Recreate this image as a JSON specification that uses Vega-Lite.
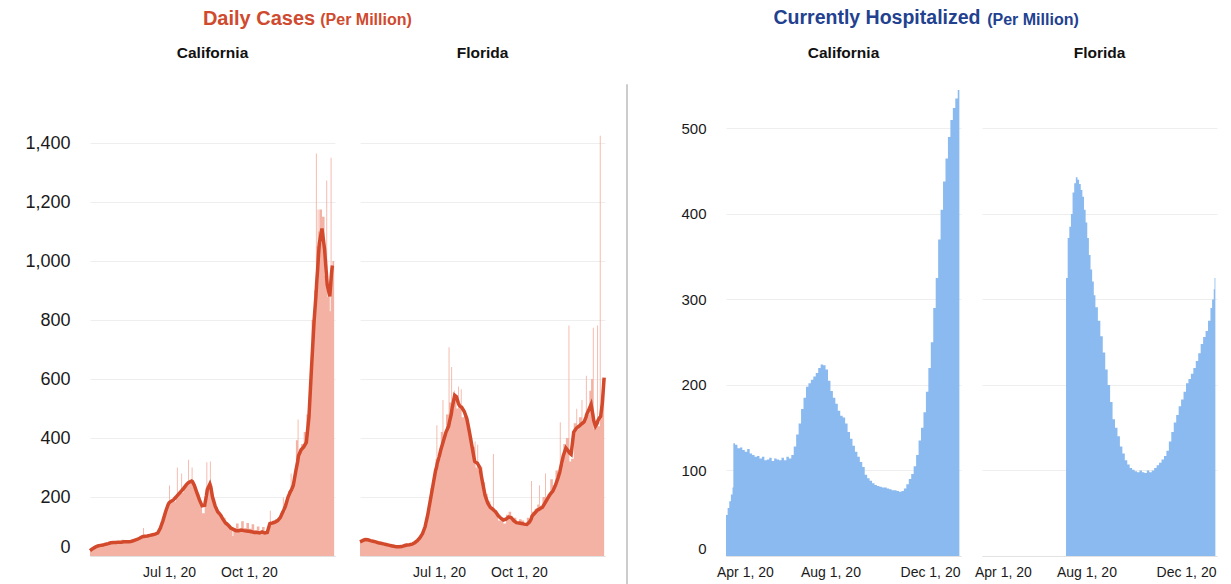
{
"$schema": "https://vega.github.io/schema/vega-lite/v6.json",
"background": "white",
"padding": {"left": 24, "top": 8, "right": 5, "bottom": 5},
"config": {
  "font": "Liberation Sans",
  "view": {"stroke": null},
  "axis": {"ticks": false, "domain": false, "labelColor": "#1a1a1a", "gridColor": "#eeeeee", "labelFont": "Liberation Sans"},
  "axisX": {"domain": true, "domainColor": "#e2e2e2", "labelFontSize": 14, "labelPadding": 9, "labelFlush": false, "grid": false},
  "axisY": {"grid": true, "labelFlush": true, "labelPadding": 20},
  "title": {"fontWeight": "bold", "anchor": "middle", "font": "Liberation Sans"}
},
"datasets": {
"caC": [
{"d":"2020-04-01","c":18,"a":18},{"d":"2020-04-04","c":30,"a":25},{"d":"2020-04-07","c":32,"a":30},{"d":"2020-04-10","c":38,"a":34},{"d":"2020-04-13","c":35,"a":36},{"d":"2020-04-16","c":42,"a":37},{"d":"2020-04-19","c":40,"a":40},{"d":"2020-04-22","c":48,"a":42},{"d":"2020-04-25","c":50,"a":45},{"d":"2020-04-28","c":44,"a":46},
{"d":"2020-05-01","c":52,"a":46},{"d":"2020-05-04","c":45,"a":47},{"d":"2020-05-07","c":55,"a":47},{"d":"2020-05-10","c":46,"a":48},{"d":"2020-05-13","c":52,"a":48},{"d":"2020-05-16","c":50,"a":48},{"d":"2020-05-19","c":54,"a":50},{"d":"2020-05-22","c":58,"a":53},{"d":"2020-05-25","c":55,"a":56},{"d":"2020-05-28","c":66,"a":60},{"d":"2020-05-31","c":70,"a":65},
{"d":"2020-06-01","c":95,"a":66},{"d":"2020-06-02","c":68,"a":66},{"d":"2020-06-03","c":70,"a":67},{"d":"2020-06-06","c":72,"a":68},{"d":"2020-06-09","c":70,"a":70},{"d":"2020-06-12","c":78,"a":72},{"d":"2020-06-15","c":76,"a":74},{"d":"2020-06-18","c":88,"a":78},{"d":"2020-06-21","c":100,"a":95},{"d":"2020-06-24","c":140,"a":120},{"d":"2020-06-27","c":155,"a":150},{"d":"2020-06-30","c":180,"a":175},
{"d":"2020-07-01","c":239,"a":180},{"d":"2020-07-02","c":185,"a":183},{"d":"2020-07-03","c":190,"a":185},{"d":"2020-07-06","c":185,"a":190},{"d":"2020-07-09","c":210,"a":200},{"d":"2020-07-10","c":300,"a":203},{"d":"2020-07-11","c":200,"a":206},{"d":"2020-07-12","c":215,"a":210},{"d":"2020-07-15","c":280,"a":220},{"d":"2020-07-16","c":215,"a":223},{"d":"2020-07-18","c":235,"a":230},{"d":"2020-07-21","c":240,"a":242},{"d":"2020-07-23","c":326,"a":248},{"d":"2020-07-24","c":250,"a":250},{"d":"2020-07-27","c":300,"a":254},{"d":"2020-07-28","c":245,"a":252},{"d":"2020-07-30","c":235,"a":240},
{"d":"2020-08-02","c":210,"a":215},{"d":"2020-08-05","c":180,"a":190},{"d":"2020-08-08","c":145,"a":170},{"d":"2020-08-11","c":175,"a":172},{"d":"2020-08-13","c":318,"a":205},{"d":"2020-08-14","c":230,"a":225},{"d":"2020-08-17","c":320,"a":244},{"d":"2020-08-18","c":230,"a":235},{"d":"2020-08-20","c":195,"a":200},{"d":"2020-08-23","c":165,"a":170},{"d":"2020-08-26","c":150,"a":150},{"d":"2020-08-29","c":140,"a":140},
{"d":"2020-09-01","c":130,"a":125},{"d":"2020-09-04","c":115,"a":112},{"d":"2020-09-07","c":100,"a":105},{"d":"2020-09-10","c":98,"a":95},{"d":"2020-09-12","c":68,"a":92},{"d":"2020-09-13","c":95,"a":90},{"d":"2020-09-16","c":110,"a":86},{"d":"2020-09-19","c":92,"a":86},{"d":"2020-09-22","c":118,"a":88},{"d":"2020-09-25","c":95,"a":86},{"d":"2020-09-28","c":112,"a":85},
{"d":"2020-10-01","c":92,"a":84},{"d":"2020-10-04","c":108,"a":82},{"d":"2020-10-07","c":88,"a":80},{"d":"2020-10-10","c":100,"a":80},{"d":"2020-10-13","c":85,"a":78},{"d":"2020-10-16","c":98,"a":82},{"d":"2020-10-19","c":80,"a":78},{"d":"2020-10-22","c":95,"a":80},{"d":"2020-10-25","c":153,"a":110},{"d":"2020-10-26","c":115,"a":111},{"d":"2020-10-28","c":120,"a":112},{"d":"2020-10-31","c":125,"a":115},
{"d":"2020-11-03","c":130,"a":120},{"d":"2020-11-06","c":145,"a":130},{"d":"2020-11-09","c":198,"a":150},{"d":"2020-11-10","c":150,"a":155},{"d":"2020-11-12","c":185,"a":170},{"d":"2020-11-15","c":220,"a":200},{"d":"2020-11-18","c":280,"a":220},{"d":"2020-11-19","c":225,"a":225},{"d":"2020-11-21","c":260,"a":240},{"d":"2020-11-24","c":392,"a":290},{"d":"2020-11-26","c":463,"a":320},{"d":"2020-11-27","c":350,"a":340},{"d":"2020-11-30","c":380,"a":360},
{"d":"2020-12-03","c":420,"a":370},{"d":"2020-12-06","c":480,"a":385},{"d":"2020-12-09","c":560,"a":470},{"d":"2020-12-12","c":800,"a":640},{"d":"2020-12-15","c":900,"a":800},{"d":"2020-12-17","c":1364,"a":880},{"d":"2020-12-18","c":1050,"a":930},{"d":"2020-12-19","c":1175,"a":970},{"d":"2020-12-20","c":1100,"a":1020},{"d":"2020-12-21","c":1175,"a":1060},{"d":"2020-12-24","c":1150,"a":1110},{"d":"2020-12-27","c":950,"a":1040},{"d":"2020-12-29","c":1273,"a":960},{"d":"2020-12-30","c":880,"a":920},
{"d":"2021-01-02","c":830,"a":880},{"d":"2021-01-03","c":1350,"a":920},{"d":"2021-01-04","c":980,"a":960},{"d":"2021-01-05","c":1000,"a":985},{"d":"2021-01-07","c":950,"a":null}
],
"flC": [
{"d":"2020-04-01","c":50,"a":48},{"d":"2020-04-04","c":60,"a":52},{"d":"2020-04-07","c":55,"a":56},{"d":"2020-04-10","c":58,"a":55},{"d":"2020-04-13","c":50,"a":52},{"d":"2020-04-16","c":52,"a":50},{"d":"2020-04-19","c":48,"a":48},{"d":"2020-04-22","c":46,"a":45},{"d":"2020-04-25","c":44,"a":43},{"d":"2020-04-28","c":40,"a":41},
{"d":"2020-05-01","c":42,"a":39},{"d":"2020-05-04","c":38,"a":37},{"d":"2020-05-07","c":36,"a":35},{"d":"2020-05-10","c":34,"a":33},{"d":"2020-05-13","c":33,"a":31},{"d":"2020-05-16","c":36,"a":31},{"d":"2020-05-19","c":34,"a":32},{"d":"2020-05-22","c":42,"a":35},{"d":"2020-05-25","c":40,"a":37},{"d":"2020-05-28","c":45,"a":38},{"d":"2020-05-31","c":48,"a":40},
{"d":"2020-06-03","c":52,"a":45},{"d":"2020-06-06","c":60,"a":52},{"d":"2020-06-09","c":72,"a":62},{"d":"2020-06-12","c":90,"a":76},{"d":"2020-06-15","c":110,"a":100},{"d":"2020-06-18","c":160,"a":140},{"d":"2020-06-21","c":230,"a":190},{"d":"2020-06-24","c":270,"a":240},{"d":"2020-06-27","c":330,"a":290},{"d":"2020-06-28","c":443,"a":300},{"d":"2020-06-29","c":310,"a":315},
{"d":"2020-07-01","c":330,"a":335},{"d":"2020-07-03","c":420,"a":360},{"d":"2020-07-05","c":529,"a":380},{"d":"2020-07-06","c":400,"a":390},{"d":"2020-07-09","c":480,"a":420},{"d":"2020-07-12","c":708,"a":440},{"d":"2020-07-13","c":520,"a":455},{"d":"2020-07-15","c":641,"a":480},{"d":"2020-07-16","c":500,"a":500},{"d":"2020-07-18","c":560,"a":530},{"d":"2020-07-19","c":530,"a":545},{"d":"2020-07-21","c":500,"a":540},{"d":"2020-07-23","c":575,"a":520},{"d":"2020-07-24","c":500,"a":512},{"d":"2020-07-26","c":565,"a":505},{"d":"2020-07-27","c":470,"a":504},{"d":"2020-07-30","c":480,"a":490},
{"d":"2020-08-02","c":440,"a":465},{"d":"2020-08-05","c":400,"a":420},{"d":"2020-08-08","c":370,"a":370},{"d":"2020-08-11","c":388,"a":321},{"d":"2020-08-12","c":300,"a":318},{"d":"2020-08-14","c":377,"a":315},{"d":"2020-08-15","c":290,"a":310},{"d":"2020-08-17","c":300,"a":300},{"d":"2020-08-20","c":250,"a":250},{"d":"2020-08-23","c":210,"a":205},{"d":"2020-08-26","c":185,"a":180},{"d":"2020-08-29","c":160,"a":165},
{"d":"2020-09-01","c":346,"a":158},{"d":"2020-09-02","c":150,"a":155},{"d":"2020-09-04","c":140,"a":150},{"d":"2020-09-07","c":120,"a":137},{"d":"2020-09-10","c":130,"a":128},{"d":"2020-09-13","c":110,"a":122},{"d":"2020-09-16","c":140,"a":125},{"d":"2020-09-19","c":150,"a":132},{"d":"2020-09-22","c":120,"a":130},{"d":"2020-09-25","c":130,"a":120},{"d":"2020-09-28","c":110,"a":113},
{"d":"2020-10-01","c":125,"a":112},{"d":"2020-10-04","c":120,"a":110},{"d":"2020-10-07","c":110,"a":108},{"d":"2020-10-10","c":130,"a":107},{"d":"2020-10-13","c":120,"a":115},{"d":"2020-10-15","c":254,"a":125},{"d":"2020-10-16","c":150,"a":135},{"d":"2020-10-19","c":160,"a":145},{"d":"2020-10-22","c":175,"a":155},{"d":"2020-10-24","c":240,"a":158},{"d":"2020-10-25","c":170,"a":160},{"d":"2020-10-28","c":200,"a":165},{"d":"2020-10-31","c":280,"a":180},
{"d":"2020-11-01","c":190,"a":185},{"d":"2020-11-03","c":210,"a":195},{"d":"2020-11-06","c":260,"a":210},{"d":"2020-11-09","c":240,"a":220},{"d":"2020-11-12","c":290,"a":240},{"d":"2020-11-15","c":280,"a":265},{"d":"2020-11-17","c":453,"a":285},{"d":"2020-11-18","c":310,"a":300},{"d":"2020-11-21","c":380,"a":340},{"d":"2020-11-24","c":400,"a":366},{"d":"2020-11-27","c":781,"a":355},{"d":"2020-11-28","c":320,"a":350},{"d":"2020-11-30","c":330,"a":345},
{"d":"2020-12-03","c":450,"a":420},{"d":"2020-12-06","c":499,"a":433},{"d":"2020-12-07","c":430,"a":435},{"d":"2020-12-09","c":470,"a":440},{"d":"2020-12-12","c":529,"a":448},{"d":"2020-12-13","c":450,"a":450},{"d":"2020-12-15","c":470,"a":455},{"d":"2020-12-17","c":611,"a":470},{"d":"2020-12-18","c":480,"a":480},{"d":"2020-12-21","c":560,"a":500},{"d":"2020-12-23","c":600,"a":514},{"d":"2020-12-25","c":774,"a":480},{"d":"2020-12-26","c":430,"a":460},{"d":"2020-12-28","c":440,"a":440},{"d":"2020-12-30","c":781,"a":450},{"d":"2020-12-31","c":440,"a":460},
{"d":"2021-01-02","c":1425,"a":470},{"d":"2021-01-03","c":480,"a":473},{"d":"2021-01-05","c":600,"a":520},{"d":"2021-01-07","c":620,"a":605}
],
"caH": [
{"d":"2020-03-26","h":48},{"d":"2020-03-28","h":56},{"d":"2020-03-30","h":64},{"d":"2020-04-01","h":72},{"d":"2020-04-03","h":80},{"d":"2020-04-04","h":132},{"d":"2020-04-06","h":130},{"d":"2020-04-09","h":126},{"d":"2020-04-12","h":127},{"d":"2020-04-15","h":124},{"d":"2020-04-18","h":122},{"d":"2020-04-21","h":125},{"d":"2020-04-24","h":120},{"d":"2020-04-27","h":118},{"d":"2020-04-30","h":116},
{"d":"2020-05-03","h":117},{"d":"2020-05-06","h":114},{"d":"2020-05-09","h":116},{"d":"2020-05-12","h":112},{"d":"2020-05-15","h":113},{"d":"2020-05-18","h":115},{"d":"2020-05-21","h":111},{"d":"2020-05-24","h":114},{"d":"2020-05-27","h":113},{"d":"2020-05-30","h":112},
{"d":"2020-06-02","h":115},{"d":"2020-06-05","h":112},{"d":"2020-06-08","h":116},{"d":"2020-06-11","h":114},{"d":"2020-06-14","h":118},{"d":"2020-06-17","h":128},{"d":"2020-06-20","h":142},{"d":"2020-06-23","h":155},{"d":"2020-06-26","h":172},{"d":"2020-06-29","h":185},
{"d":"2020-07-02","h":198},{"d":"2020-07-05","h":202},{"d":"2020-07-08","h":206},{"d":"2020-07-11","h":210},{"d":"2020-07-14","h":214},{"d":"2020-07-17","h":220},{"d":"2020-07-20","h":224},{"d":"2020-07-23","h":223},{"d":"2020-07-26","h":218},{"d":"2020-07-29","h":205},
{"d":"2020-08-01","h":193},{"d":"2020-08-04","h":185},{"d":"2020-08-07","h":178},{"d":"2020-08-10","h":170},{"d":"2020-08-13","h":164},{"d":"2020-08-16","h":162},{"d":"2020-08-19","h":155},{"d":"2020-08-22","h":145},{"d":"2020-08-25","h":137},{"d":"2020-08-28","h":129},{"d":"2020-08-31","h":122},
{"d":"2020-09-03","h":116},{"d":"2020-09-06","h":110},{"d":"2020-09-09","h":104},{"d":"2020-09-12","h":95},{"d":"2020-09-15","h":91},{"d":"2020-09-18","h":88},{"d":"2020-09-21","h":85},{"d":"2020-09-24","h":83},{"d":"2020-09-27","h":82},{"d":"2020-09-30","h":81},
{"d":"2020-10-03","h":80},{"d":"2020-10-06","h":80},{"d":"2020-10-09","h":79},{"d":"2020-10-12","h":78},{"d":"2020-10-15","h":77},{"d":"2020-10-18","h":77},{"d":"2020-10-21","h":76},{"d":"2020-10-24","h":75},{"d":"2020-10-27","h":76},{"d":"2020-10-30","h":79},
{"d":"2020-11-02","h":84},{"d":"2020-11-05","h":90},{"d":"2020-11-08","h":96},{"d":"2020-11-11","h":105},{"d":"2020-11-14","h":118},{"d":"2020-11-17","h":135},{"d":"2020-11-20","h":150},{"d":"2020-11-23","h":168},{"d":"2020-11-26","h":192},{"d":"2020-11-29","h":220},
{"d":"2020-12-02","h":250},{"d":"2020-12-05","h":290},{"d":"2020-12-08","h":325},{"d":"2020-12-11","h":370},{"d":"2020-12-14","h":405},{"d":"2020-12-17","h":438},{"d":"2020-12-20","h":465},{"d":"2020-12-23","h":490},{"d":"2020-12-26","h":510},{"d":"2020-12-29","h":524},
{"d":"2021-01-01","h":535},{"d":"2021-01-04","h":545},{"d":"2021-01-06","h":545}
],
"flH": [
{"d":"2020-07-07","h":325},{"d":"2020-07-09","h":372},{"d":"2020-07-11","h":385},{"d":"2020-07-13","h":400},{"d":"2020-07-15","h":425},{"d":"2020-07-17","h":436},{"d":"2020-07-19","h":443},{"d":"2020-07-21","h":440},{"d":"2020-07-23","h":435},{"d":"2020-07-25","h":428},{"d":"2020-07-27","h":420},{"d":"2020-07-29","h":405},{"d":"2020-07-31","h":390},
{"d":"2020-08-02","h":372},{"d":"2020-08-04","h":352},{"d":"2020-08-06","h":335},{"d":"2020-08-08","h":321},{"d":"2020-08-10","h":305},{"d":"2020-08-12","h":291},{"d":"2020-08-15","h":275},{"d":"2020-08-18","h":257},{"d":"2020-08-21","h":238},{"d":"2020-08-24","h":218},{"d":"2020-08-27","h":200},{"d":"2020-08-30","h":180},
{"d":"2020-09-02","h":160},{"d":"2020-09-05","h":150},{"d":"2020-09-08","h":140},{"d":"2020-09-11","h":128},{"d":"2020-09-14","h":120},{"d":"2020-09-17","h":112},{"d":"2020-09-20","h":107},{"d":"2020-09-23","h":103},{"d":"2020-09-26","h":101},{"d":"2020-09-29","h":99},
{"d":"2020-10-02","h":98},{"d":"2020-10-05","h":100},{"d":"2020-10-08","h":98},{"d":"2020-10-11","h":97},{"d":"2020-10-14","h":100},{"d":"2020-10-17","h":98},{"d":"2020-10-20","h":100},{"d":"2020-10-23","h":103},{"d":"2020-10-26","h":106},{"d":"2020-10-29","h":109},
{"d":"2020-11-01","h":113},{"d":"2020-11-04","h":117},{"d":"2020-11-07","h":123},{"d":"2020-11-10","h":134},{"d":"2020-11-13","h":145},{"d":"2020-11-16","h":156},{"d":"2020-11-19","h":165},{"d":"2020-11-22","h":175},{"d":"2020-11-25","h":183},{"d":"2020-11-28","h":192},
{"d":"2020-12-01","h":202},{"d":"2020-12-04","h":207},{"d":"2020-12-07","h":213},{"d":"2020-12-10","h":220},{"d":"2020-12-13","h":228},{"d":"2020-12-16","h":237},{"d":"2020-12-19","h":248},{"d":"2020-12-22","h":256},{"d":"2020-12-25","h":263},{"d":"2020-12-28","h":275},{"d":"2020-12-31","h":290},
{"d":"2021-01-02","h":300},{"d":"2021-01-04","h":312},{"d":"2021-01-05","h":325},{"d":"2021-01-06","h":325}
]
},
"spacing": 13,
"hconcat": [
{
  "title": {"text": "Daily Cases", "fontSize": 20, "color": "#cf4a2e", "dx": -59, "offset": -17},
  "hconcat": [
    {
      "title": {"text": "(Per Million)", "fontSize": 16, "color": "#cf4a2e", "dx": 48, "dy": -33, "offset": -15},
      "spacing": 25,
      "bounds": "flush",
      "hconcat": [
        {
          "width": 245, "height": 472,
          "title": {"text": "California", "fontSize": 15.5, "color": "#111111", "frame": "group", "offset": 23},
          "data": {"name": "caC"},
          "layer": [
            {"mark": {"type": "area", "interpolate": "step-after", "color": "#f3b2a4"},
             "encoding": {
               "x": {"field": "d", "type": "temporal", "title": null,
                     "scale": {"domain": [{"year": 2020, "month": 4, "date": 1}, {"year": 2021, "month": 1, "date": 8}]},
                     "axis": {"values": [{"year": 2020, "month": 7, "date": 1}, {"year": 2020, "month": 10, "date": 1}], "format": "%b %-d, %y"}},
               "y": {"field": "c", "type": "quantitative", "title": null,
                     "scale": {"domain": [0, 1440]},
                     "axis": {"values": [0, 200, 400, 600, 800, 1000, 1200, 1400], "format": ",d", "labelFontSize": 18}}
             }},
            {"mark": {"type": "line", "color": "#d2492b", "strokeWidth": 3.5},
             "encoding": {
               "x": {"field": "d", "type": "temporal"},
               "y": {"field": "a", "type": "quantitative"}
             }}
          ]
        },
        {
          "width": 245, "height": 472,
          "title": {"text": "Florida", "fontSize": 15.5, "color": "#111111", "frame": "group", "offset": 23},
          "data": {"name": "flC"},
          "layer": [
            {"mark": {"type": "area", "interpolate": "step-after", "color": "#f3b2a4"},
             "encoding": {
               "x": {"field": "d", "type": "temporal", "title": null,
                     "scale": {"domain": [{"year": 2020, "month": 4, "date": 1}, {"year": 2021, "month": 1, "date": 8}]},
                     "axis": {"values": [{"year": 2020, "month": 7, "date": 1}, {"year": 2020, "month": 10, "date": 1}], "format": "%b %-d, %y"}},
               "y": {"field": "c", "type": "quantitative", "title": null,
                     "scale": {"domain": [0, 1440]},
                     "axis": {"values": [0, 200, 400, 600, 800, 1000, 1200, 1400], "labels": false, "labelPadding": 0}}
             }},
            {"mark": {"type": "line", "color": "#d2492b", "strokeWidth": 3.5},
             "encoding": {
               "x": {"field": "d", "type": "temporal"},
               "y": {"field": "a", "type": "quantitative"}
             }}
          ]
        }
      ]
    }
  ]
},
{
  "spacing": 52,
  "hconcat": [
    {"width": 1, "height": 574, "view": {"stroke": "#cccccc", "strokeWidth": 1}, "data": {"values": []}, "mark": "point", "encoding": {}},
    {
      "title": {"text": "Currently Hospitalized", "fontSize": 19.5, "color": "#22418f", "dx": -72, "offset": -17},
      "hconcat": [
        {
          "title": {"text": "(Per Million)", "fontSize": 16, "color": "#22418f", "dx": 84, "dy": -33, "offset": -15},
          "spacing": 21,
          "bounds": "flush",
          "hconcat": [
            {
              "width": 235, "height": 472,
              "title": {"text": "California", "fontSize": 15.5, "color": "#111111", "frame": "group", "offset": 23},
              "data": {"name": "caH"},
              "mark": {"type": "area", "interpolate": "step-after", "color": "#8abaef"},
              "encoding": {
                "x": {"field": "d", "type": "temporal", "title": null,
                      "scale": {"domain": [{"year": 2020, "month": 3, "date": 26}, {"year": 2021, "month": 1, "date": 8}]},
                      "axis": {"values": [{"year": 2020, "month": 4, "date": 1}, {"year": 2020, "month": 8, "date": 1}, {"year": 2020, "month": 12, "date": 1}], "format": "%b %-d, %y",
                               "labelOffset": {"condition": {"test": "month(datum.value) == 3", "value": 14}, "value": 0}}},
                "y": {"field": "h", "type": "quantitative", "title": null,
                      "scale": {"domain": [0, 552]},
                      "axis": {"values": [0, 100, 200, 300, 400, 500], "labelFontSize": 15}}
              }
            },
            {
              "width": 235, "height": 472,
              "title": {"text": "Florida", "fontSize": 15.5, "color": "#111111", "frame": "group", "offset": 23},
              "data": {"name": "flH"},
              "mark": {"type": "area", "interpolate": "step-after", "color": "#8abaef"},
              "encoding": {
                "x": {"field": "d", "type": "temporal", "title": null,
                      "scale": {"domain": [{"year": 2020, "month": 3, "date": 26}, {"year": 2021, "month": 1, "date": 8}]},
                      "axis": {"values": [{"year": 2020, "month": 4, "date": 1}, {"year": 2020, "month": 8, "date": 1}, {"year": 2020, "month": 12, "date": 1}], "format": "%b %-d, %y",
                               "labelOffset": {"condition": {"test": "month(datum.value) == 3", "value": 16}, "value": 0}}},
                "y": {"field": "h", "type": "quantitative", "title": null,
                      "scale": {"domain": [0, 552]},
                      "axis": {"values": [0, 100, 200, 300, 400, 500], "labels": false, "labelPadding": 0}}
              }
            }
          ]
        }
      ]
    }
  ]
}
]
}
